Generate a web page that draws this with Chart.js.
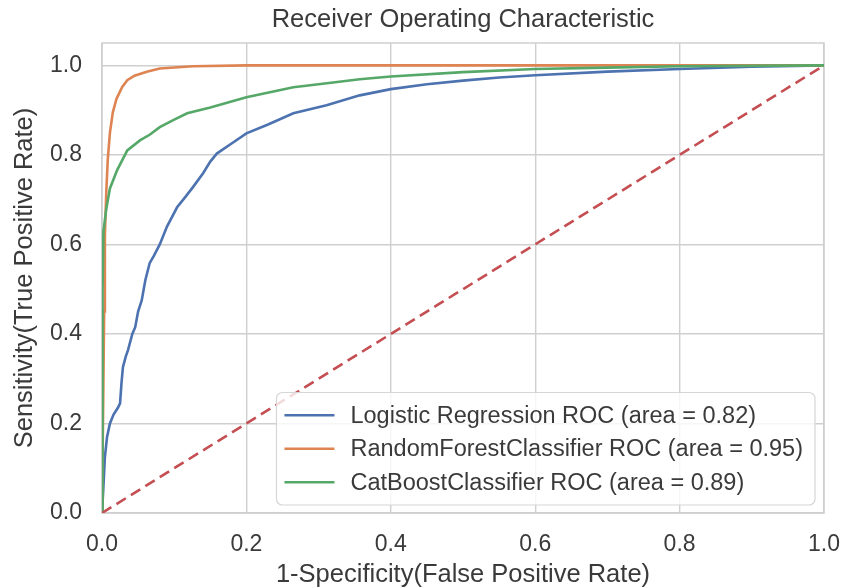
<!DOCTYPE html>
<html>
<head>
<meta charset="utf-8">
<script src="https://cdn.jsdelivr.net/npm/chart.js@4.4.1/dist/chart.umd.min.js"></script>
<style>
  body { margin: 0; background: #fff; }
  #roc { display: block; }
</style>
</head>
<body>
<canvas id="roc" width="842" height="588"></canvas>
<script>
// ROC curves (false positive rate, true positive rate)
const lrFpr = [0, 0.002, 0.004, 0.007, 0.011, 0.016, 0.022, 0.025, 0.027, 0.029, 0.033, 0.036, 0.042, 0.046, 0.050, 0.055, 0.060, 0.066, 0.072, 0.080, 0.090, 0.104, 0.115, 0.126, 0.140, 0.150, 0.159, 0.180, 0.200, 0.230, 0.265, 0.311, 0.357, 0.400, 0.450, 0.500, 0.550, 0.600, 0.700, 0.800, 0.900, 1.0];
const lrTpr = [0, 0.06, 0.125, 0.17, 0.20, 0.22, 0.235, 0.245, 0.29, 0.326, 0.35, 0.364, 0.40, 0.415, 0.45, 0.475, 0.52, 0.558, 0.575, 0.60, 0.64, 0.683, 0.705, 0.728, 0.759, 0.785, 0.803, 0.826, 0.848, 0.868, 0.893, 0.911, 0.933, 0.947, 0.958, 0.966, 0.973, 0.978, 0.986, 0.992, 0.997, 1.0];

const rfFpr = [0, 0.003, 0.004, 0.006, 0.008, 0.011, 0.015, 0.020, 0.028, 0.035, 0.045, 0.062, 0.080, 0.126, 0.200, 1.0];
const rfTpr = [0, 0.45, 0.62, 0.72, 0.79, 0.85, 0.895, 0.925, 0.952, 0.967, 0.977, 0.986, 0.993, 0.998, 1.0, 1.0];

const cbFpr = [0, 0.0005, 0.001, 0.002, 0.006, 0.011, 0.021, 0.035, 0.053, 0.066, 0.080, 0.100, 0.118, 0.150, 0.200, 0.265, 0.300, 0.357, 0.400, 0.500, 0.600, 0.700, 0.800, 1.0];
const cbTpr = [0, 0.30, 0.50, 0.63, 0.68, 0.725, 0.766, 0.81, 0.833, 0.845, 0.862, 0.879, 0.893, 0.906, 0.929, 0.951, 0.958, 0.969, 0.975, 0.985, 0.992, 0.995, 0.998, 1.0];

const chanceLine = [0, 1];

const xTickValues = [0, 0.2, 0.4, 0.6, 0.8, 1.0];
const yTickValues = [0, 0.2, 0.4, 0.6, 0.8, 1.0];

const chartTitle = 'Receiver Operating Characteristic';
const labels = [
  'Logistic Regression ROC (area = 0.82)',
  'RandomForestClassifier ROC (area = 0.95)',
  'CatBoostClassifier ROC (area = 0.89)'
];
const colors = ['#4c72b0', '#dd8452', '#55a868'];

const FONT = "'Liberation Sans', Arial, sans-serif";
const gridColor = '#cfcfcf';
const textColor = '#3a3a3a';

function toPoints(xs, ys) {
  return xs.map((x, i) => ({ x: x, y: ys[i] }));
}

// frame round the plot, like seaborn whitegrid
const framePlugin = {
  id: 'frame',
  beforeDatasetsDraw(chart) {
    const a = chart.chartArea, c = chart.ctx;
    c.save();
    c.strokeStyle = gridColor;
    c.lineWidth = 1.5;
    c.strokeRect(a.left, a.top, a.right - a.left, a.bottom - a.top);
    c.restore();
  }
};

// title centred over the plot area (matplotlib style), not over the canvas
const axesTitle = {
  id: 'axesTitle',
  afterDraw(chart) {
    const a = chart.chartArea, c = chart.ctx;
    c.save();
    c.font = '25.5px ' + FONT;
    c.fillStyle = textColor;
    c.textAlign = 'center';
    c.textBaseline = 'middle';
    c.fillText(chartTitle, (a.left + a.right) / 2, 20);
    c.restore();
  }
};

// legend box in the lower right corner of the plot
const boxLegend = {
  id: 'boxLegend',
  afterDraw(chart) {
    const a = chart.chartArea, c = chart.ctx;
    const sets = chart.data.datasets.filter(d => d.inLegend);
    c.save();
    c.font = '23.5px ' + FONT;
    let tw = 0;
    sets.forEach(d => { tw = Math.max(tw, c.measureText(d.label).width); });
    const rowH = 33.5, lineLen = 50, gap = 16, padL = 8, padR = 12, padV = 6;
    const w = padL + lineLen + gap + tw + padR;
    const h = padV * 2 + rowH * sets.length;
    const x = a.right - 9 - w, y = a.bottom - 8 - h;
    c.beginPath();
    c.roundRect(x, y, w, h, 6);
    c.fillStyle = 'rgba(255,255,255,0.8)';
    c.fill();
    c.strokeStyle = '#d6d6d6';
    c.lineWidth = 1.2;
    c.stroke();
    sets.forEach((d, i) => {
      const cy = y + padV + rowH * (i + 0.5);
      c.beginPath();
      c.moveTo(x + padL, cy);
      c.lineTo(x + padL + lineLen, cy);
      c.strokeStyle = d.borderColor;
      c.lineWidth = 2.6;
      c.stroke();
      c.fillStyle = textColor;
      c.textBaseline = 'middle';
      c.fillText(d.label, x + padL + lineLen + gap, cy + 1);
    });
    c.restore();
  }
};

new Chart(document.getElementById('roc'), {
  type: 'scatter',
  data: {
    datasets: [
      { label: labels[0], data: toPoints(lrFpr, lrTpr), borderColor: colors[0], inLegend: true, order: 4 },
      { label: labels[1], data: toPoints(rfFpr, rfTpr), borderColor: colors[1], inLegend: true, order: 3 },
      { label: labels[2], data: toPoints(cbFpr, cbTpr), borderColor: colors[2], inLegend: true, order: 2 },
      { label: 'chance', data: toPoints(chanceLine, chanceLine), borderColor: '#c44e52', borderDash: [11, 6], inLegend: false, order: 1 }
    ].map(d => Object.assign({
      showLine: true,
      pointRadius: 0,
      pointHoverRadius: 0,
      borderWidth: 2.6,
      fill: false,
      tension: 0
    }, d))
  },
  options: {
    responsive: false,
    animation: false,
    events: [],
    layout: { padding: { left: 0, right: 18, top: 43, bottom: 0 } },
    plugins: {
      legend: { display: false },
      tooltip: { enabled: false },
      title: { display: false }
    },
    scales: {
      x: {
        type: 'linear',
        min: 0,
        max: 1,
        afterFit(scale) {
          scale.height = 75;
          scale.paddingLeft = 0;
          scale.paddingRight = 0;
        },
        afterBuildTicks(scale) { scale.ticks = xTickValues.map(v => ({ value: v })); },
        grid: { color: gridColor, lineWidth: 1.4, drawTicks: false },
        border: { display: false },
        ticks: {
          padding: 18,
          color: textColor,
          font: { family: FONT, size: 23 },
          maxRotation: 0,
          callback: v => v.toFixed(1)
        },
        title: {
          display: true,
          text: '1-Specificity(False Positive Rate)',
          color: textColor,
          font: { family: FONT, size: 25.5, lineHeight: 1 },
          padding: { top: 0, bottom: 0 }
        }
      },
      y: {
        type: 'linear',
        min: 0,
        max: 1.05,
        afterFit(scale) {
          scale.width = 102;
          scale.paddingTop = 0;
          scale.paddingBottom = 0;
        },
        afterBuildTicks(scale) { scale.ticks = yTickValues.map(v => ({ value: v })); },
        grid: { color: gridColor, lineWidth: 1.4, drawTicks: false },
        border: { display: false },
        ticks: {
          padding: 20,
          color: textColor,
          font: { family: FONT, size: 23 },
          callback: v => v.toFixed(1)
        },
        title: {
          display: true,
          text: 'Sensitivity(True Positive Rate)',
          color: textColor,
          font: { family: FONT, size: 25.5, lineHeight: 1 },
          padding: { top: 12, bottom: 0 }
        }
      }
    }
  },
  plugins: [framePlugin, axesTitle, boxLegend]
});
</script>
</body>
</html>
